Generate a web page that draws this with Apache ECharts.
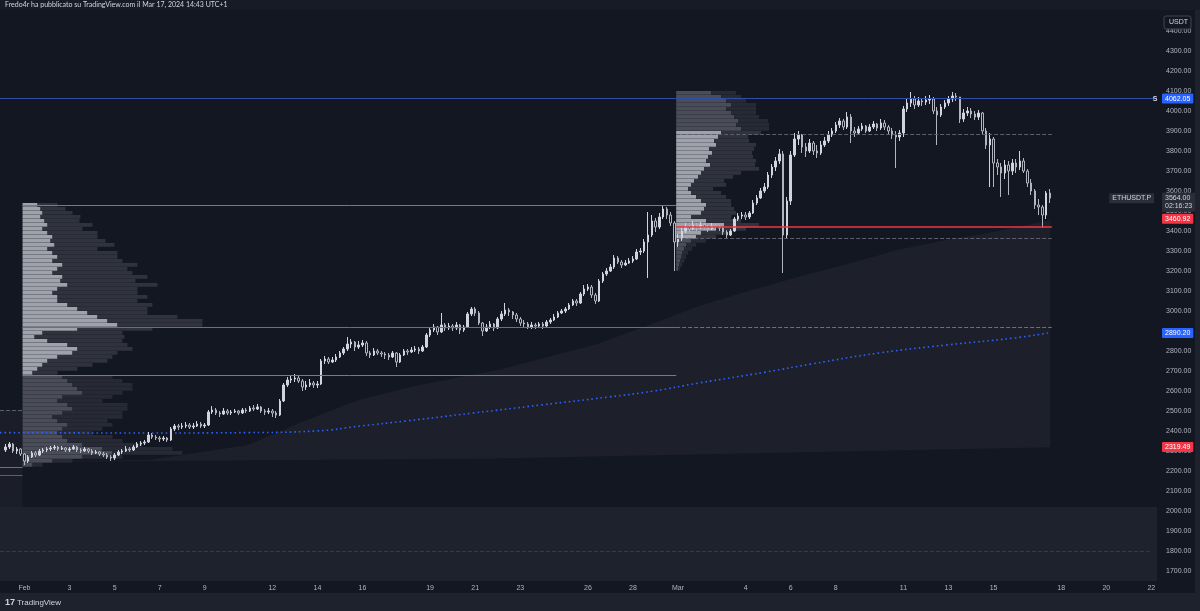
<!DOCTYPE html>
<html>
<head>
<meta charset="utf-8">
<title>ETHUSDT.P 4h</title>
<script src="https://cdn.jsdelivr.net/npm/echarts@6.0.0/dist/echarts.min.js"></script>
<style>
  html, body { margin: 0; padding: 0; background: #131722; }
  #chart { width: 1200px; height: 611px; }
</style>
</head>
<body>
<div id="chart"></div>
<script>
// 4h candles from Jan 31 04:00 to Mar 17 12:00; each open is the previous close
const firstOpen = 2305;
const closes = [
  2320, 2335, 2300, 2310, 2285,                 // Jan 31
  2250, 2270, 2290, 2280, 2300, 2305,           // Feb 1
  2310, 2315, 2320, 2310, 2315, 2305,
  2310, 2320, 2305, 2300, 2310, 2300,
  2290, 2295, 2285, 2280, 2270, 2265,
  2280, 2295, 2300, 2310, 2305, 2320,           // Feb 5
  2335, 2340, 2345, 2380, 2370, 2365,
  2360, 2365, 2355, 2410, 2425, 2420,
  2425, 2430, 2420, 2425, 2435, 2425,
  2430, 2495, 2505, 2490, 2485, 2500,
  2490, 2495, 2500, 2490, 2505, 2500,           // Feb 10
  2515, 2510, 2520, 2500, 2495, 2500,
  2490, 2480, 2550, 2630, 2655, 2660,
  2665, 2650, 2620, 2630, 2640, 2630,
  2635, 2750, 2760, 2745, 2755, 2770,
  2790, 2810, 2835, 2845, 2820, 2830,           // Feb 15
  2840, 2790, 2780, 2800, 2790, 2785,
  2780, 2770, 2790, 2745, 2780, 2800,
  2795, 2805, 2810, 2800, 2820, 2880,
  2905, 2920, 2895, 2930, 2915, 2925,
  2915, 2930, 2905, 2920, 2985, 3010,           // Feb 20
  2990, 2940, 2900, 2920, 2935, 2915,
  2960, 2985, 3005, 2995, 2980, 2960,
  2940, 2935, 2920, 2930, 2925, 2935,
  2925, 2945, 2955, 2970, 2990, 3000,
  3010, 3030, 3050, 3040, 3085, 3110,           // Feb 25
  3120, 3080, 3050, 3150, 3185, 3200,
  3220, 3265, 3245, 3230, 3240, 3250,
  3260, 3295, 3300, 3345, 3380, 3450,
  3420, 3470, 3510, 3480, 3440, 3345,
  3360, 3400, 3420, 3410, 3430, 3420,           // Mar 1
  3430, 3420, 3410, 3425, 3420, 3415,
  3395, 3380, 3400, 3460, 3475, 3480,
  3470, 3490, 3540, 3565, 3600, 3620,
  3680, 3720, 3750, 3785, 3380, 3550,           // Mar 5
  3780, 3860, 3880, 3820, 3800, 3840,
  3800, 3790, 3830, 3850, 3880, 3900,
  3930, 3950, 3920, 3970, 3900, 3890,
  3910, 3925, 3900, 3920, 3935, 3915,
  3940, 3920, 3900, 3880, 3870, 3890,           // Mar 10
  4010, 4040, 4060, 4030, 4050, 4045,
  4055, 4060, 4000, 3980, 4020, 4040,
  4060, 4075, 4070, 3960, 3990, 4000,
  3985, 3970, 3990, 3900, 3830, 3860,
  3740, 3720, 3690, 3730, 3700, 3740,           // Mar 15
  3720, 3750, 3700, 3640, 3600, 3530,
  3520, 3480, 3590, 3564
];
const highs = [
  2335, 2345, 2340, 2320, 2315,
  2290, 2280, 2300, 2300, 2310, 2315,
  2320, 2325, 2330, 2325, 2325, 2320,
  2320, 2330, 2325, 2315, 2320, 2315,
  2310, 2305, 2300, 2295, 2290, 2280,
  2290, 2305, 2310, 2325, 2320, 2330,
  2345, 2350, 2355, 2395, 2390, 2380,
  2375, 2375, 2370, 2420, 2435, 2435,
  2440, 2445, 2440, 2440, 2450, 2445,
  2440, 2505, 2525, 2515, 2500, 2515,
  2510, 2505, 2510, 2505, 2515, 2515,
  2525, 2530, 2535, 2525, 2510, 2515,
  2510, 2500, 2560, 2640, 2670, 2680,
  2685, 2680, 2660, 2650, 2660, 2650,
  2650, 2760, 2775, 2770, 2770, 2785,
  2800, 2820, 2870, 2860, 2850, 2850,
  2855, 2850, 2800, 2815, 2810, 2800,
  2795, 2790, 2800, 2795, 2790, 2810,
  2810, 2820, 2825, 2820, 2830, 2890,
  2920, 2935, 2925, 2990, 2940, 2940,
  2935, 2945, 2935, 2930, 2995, 3020,
  3020, 3000, 2945, 2935, 2950, 2940,
  2970, 3000, 3040, 3015, 3000, 2990,
  2970, 2955, 2945, 2945, 2940, 2945,
  2945, 2955, 2965, 2985, 3000, 3010,
  3020, 3040, 3060, 3060, 3095, 3130,
  3135, 3130, 3090, 3160, 3195, 3215,
  3235, 3280, 3275, 3255, 3255, 3265,
  3275, 3310, 3315, 3360, 3495, 3480,
  3465, 3490, 3530, 3520, 3495, 3450,
  3385, 3420, 3440, 3430, 3450, 3440,
  3445, 3440, 3430, 3440, 3435, 3430,
  3420, 3405, 3410, 3470, 3490, 3495,
  3495, 3500, 3555, 3580, 3615, 3640,
  3695, 3735, 3770, 3810, 3800, 3570,
  3800, 3890, 3900, 3885, 3840, 3860,
  3850, 3830, 3850, 3870, 3900, 3915,
  3945, 3965, 3960, 3995, 3985, 3920,
  3925, 3940, 3930, 3935, 3950, 3940,
  3960, 3955, 3930, 3915, 3900, 3905,
  4025, 4060, 4095, 4075, 4070, 4065,
  4075, 4080, 4070, 4020, 4035, 4055,
  4075, 4095, 4090, 4070, 4010, 4020,
  4015, 4000, 4005, 3995, 3915, 3890,
  3870, 3760, 3740, 3755, 3750, 3760,
  3760, 3800, 3765, 3710, 3660, 3610,
  3560, 3530, 3600, 3610
];
const lows = [
  2295, 2310, 2290, 2285, 2275,
  2230, 2240, 2265, 2270, 2275, 2290,
  2295, 2300, 2305, 2300, 2305, 2295,
  2295, 2305, 2295, 2290, 2295, 2290,
  2280, 2285, 2275, 2270, 2260, 2250,
  2255, 2275, 2285, 2295, 2295, 2300,
  2315, 2325, 2330, 2340, 2360, 2355,
  2345, 2350, 2345, 2350, 2400, 2405,
  2410, 2415, 2410, 2410, 2420, 2415,
  2415, 2425, 2485, 2480, 2470, 2480,
  2480, 2480, 2490, 2480, 2485, 2490,
  2495, 2500, 2505, 2490, 2480, 2485,
  2470, 2465, 2475, 2545, 2620, 2640,
  2645, 2640, 2600, 2605, 2620, 2615,
  2615, 2630, 2735, 2735, 2740, 2745,
  2765, 2780, 2800, 2815, 2800, 2810,
  2820, 2775, 2765, 2775, 2780, 2770,
  2760, 2755, 2765, 2720, 2740, 2775,
  2780, 2790, 2795, 2785, 2795, 2815,
  2870, 2895, 2880, 2890, 2900, 2905,
  2900, 2905, 2885, 2895, 2915, 2975,
  2975, 2930, 2875, 2895, 2910, 2900,
  2910, 2950, 2975, 2975, 2960, 2945,
  2925, 2920, 2910, 2910, 2910, 2915,
  2910, 2920, 2935, 2950, 2965, 2985,
  2990, 3005, 3025, 3025, 3035, 3075,
  3100, 3065, 3035, 3045, 3140, 3175,
  3195, 3210, 3235, 3215, 3225, 3235,
  3240, 3255, 3280, 3290, 3165, 3370,
  3395, 3410, 3460, 3460, 3425, 3200,
  3320, 3350, 3390, 3395, 3405, 3400,
  3410, 3405, 3395, 3405, 3405, 3400,
  3380, 3360, 3375, 3395, 3450, 3460,
  3455, 3460, 3485, 3530, 3560, 3590,
  3610, 3665, 3700, 3735, 3190, 3360,
  3530, 3770, 3830, 3790, 3770, 3790,
  3780, 3765, 3780, 3820, 3840, 3870,
  3890, 3915, 3905, 3910, 3840, 3870,
  3880, 3900, 3890, 3895, 3910, 3900,
  3905, 3905, 3880, 3860, 3715, 3850,
  3870, 3995, 4020, 4010, 4020, 4025,
  4030, 4035, 3985, 3830, 3970, 4010,
  4025, 4045, 4050, 3940, 3945, 3975,
  3965, 3955, 3955, 3880, 3810, 3620,
  3620, 3680, 3570, 3660, 3580, 3680,
  3690, 3705, 3690, 3620, 3580, 3510,
  3480, 3415, 3460, 3540
];

// time axis ticks
const tickDays = ['02-01', '02-03', '02-05', '02-07', '02-09', '02-12', '02-14', '02-16', '02-19', '02-21', '02-23',
  '02-26', '02-28', '03-01', '03-04', '03-06', '03-08', '03-11', '03-13', '03-15', '03-18', '03-20', '03-22'];
const tickTexts = ['Feb', '3', '5', '7', '9', '12', '14', '16', '19', '21', '23',
  '26', '28', 'Mar', '4', '6', '8', '11', '13', '15', '18', '20', '22'];

// fixed range volume profiles (row price, value-area part, remaining part)
const p1Top = 3530, p1Step = 20, p1VaLow = 2690, p1VaHigh = 3530;
const p1VolA = [15, 18, 20, 18, 22, 25, 20, 25, 30, 28, 32, 25, 30, 35, 30, 40, 35, 30, 40, 38,
  45, 35, 30, 35, 35, 45, 55, 65, 75, 85, 95, 55, 20, 12, 25, 45, 55, 50, 35, 25, 20, 15, 10,
  40, 45, 50, 55, 60, 40, 35, 45, 50, 40, 30, 35, 45, 40, 35, 40, 45, 60, 80, 90, 60, 30, 10];
const p1VolB = [20, 25, 30, 40, 35, 45, 40, 50, 45, 55, 60, 50, 65, 60, 70, 75, 70, 80, 85, 75,
  90, 80, 85, 90, 80, 85, 70, 60, 80, 95, 85, 75, 80, 90, 75, 60, 55, 45, 55, 60, 50, 40, 25,
  50, 55, 60, 55, 40, 50, 45, 60, 55, 60, 70, 50, 45, 40, 35, 50, 55, 60, 70, 70, 40, 20, 10];
const p2Top = 4090, p2Step = 20, p2VaLow = 3370, p2VaHigh = 3890;
const p2VolA = [35, 45, 50, 55, 50, 55, 58, 62, 60, 65,
  45, 42, 38, 40, 33, 36, 32, 30, 34, 28, 25, 22, 18, 15, 12, 15, 20, 25, 30, 28, 25, 15, 30, 48, 40, 25, 20,
  15, 10, 8, 6, 5, 4, 3, 2];
const p2VolB = [25, 20, 20, 25, 30, 25, 25, 30, 33, 28,
  40, 30, 35, 40, 45, 40, 45, 50, 45, 55, 40, 35, 30, 35, 25, 30, 30, 30, 25, 30, 35, 40, 35, 35, 30, 25, 20,
  15, 10, 8, 6, 5, 4, 3, 2];

// anchored band (days counted from Jan 31 00:00)
const bandDays = [1, 6.6, 11, 13.5, 15.9, 18.6, 22.1, 26.5, 28.8, 31, 33.2, 35.4, 37.6, 39.8, 42, 44.3, 46.6];
const bandUpper = [2250, 2255, 2330, 2450, 2555, 2630, 2705, 2835, 2930, 3025, 3100, 3170, 3235, 3305, 3355, 3400, 3455];
const bandLowDays = [1, 22, 46.6];
const bandLower = [2245, 2262, 2319];

// dotted moving average
const maDays = [0, 6, 11, 14, 16, 18, 21, 24, 27, 29, 31, 34, 36, 39, 42, 45, 46.5];
const maValues = [2392, 2390, 2392, 2400, 2425, 2450, 2490, 2530, 2570, 2600, 2640, 2695, 2735, 2790, 2830, 2865, 2890];

const SLOTS = 308;
const CANDLE_START = 1;
const VOL_PER_SLOT = 3.76;

const dayNames = ['01-31'];
for (let d = 1; d <= 29; d++) dayNames.push('02-' + String(d).padStart(2, '0'));
for (let d = 1; d <= 23; d++) dayNames.push('03-' + String(d).padStart(2, '0'));
const slots = [];
dayNames.forEach(d => {
    for (let h = 0; h < 24; h += 4) slots.push(d + ' ' + String(h).padStart(2, '0'));
});
slots.length = SLOTS;

const tickMap = {};
tickDays.forEach((d, i) => { tickMap[d + ' 00'] = tickTexts[i]; });

const candleData = slots.map(() => '-');
let prevClose = firstOpen;
closes.forEach((c, i) => {
    candleData[CANDLE_START + i] = [prevClose, c, lows[i], highs[i]];
    prevClose = c;
});

function profileRows(top, step, volA, volB) {
    return volA.map((a, i) => [top - i * step, a, volB[i]]);
}

function profileRenderer(anchor, step, vaLow, vaHigh) {
    return function (params, api) {
        const p = api.value(0);
        const a = api.value(1) / VOL_PER_SLOT;
        const b = api.value(2) / VOL_PER_SLOT;
        const inVa = p >= vaLow && p <= vaHigh;
        const t = api.coord([anchor, p + step / 2]);
        const bt = api.coord([anchor, p - step / 2]);
        const xa = api.coord([anchor + a, p])[0];
        const xb = api.coord([anchor + a + b, p])[0];
        const h = bt[1] - t[1] - 0.3;
        return {
            type: 'group',
            children: [
                { type: 'rect', shape: { x: t[0], y: t[1], width: xa - t[0], height: h },
                  style: { fill: inVa ? '#9fa2ab' : '#4a4d58' } },
                { type: 'rect', shape: { x: xa, y: t[1], width: xb - xa, height: h },
                  style: { fill: inVa ? '#30333e' : '#272a35' } }
            ]
        };
    };
}

function bandRenderer(params, api) {
    const pts = [];
    bandDays.forEach((d, i) => pts.push(api.coord([d * 6, bandUpper[i]])));
    for (let i = bandLowDays.length - 1; i >= 0; i--) pts.push(api.coord([bandLowDays[i] * 6, bandLower[i]]));
    return { type: 'polygon', shape: { points: pts }, style: { fill: '#1d202b' } };
}

function priceTag(value, text, bg) {
    return {
        yAxis: value,
        lineStyle: { color: 'rgba(0,0,0,0)', width: 0 },
        label: { show: true, position: 'end', distance: 5, formatter: text, backgroundColor: bg,
                 color: '#ffffff', fontSize: 7, padding: [2, 3, 1, 3], borderRadius: 1 }
    };
}

function segment(x1, x2, price, color, type, width) {
    return [
        { coord: [x1, price], lineStyle: { color: color, type: type, width: width } },
        { coord: [x2, price] }
    ];
}

const chart = echarts.init(document.getElementById('chart'));

const option = {
    backgroundColor: '#131722',
    animation: false,
    grid: { left: 0, right: 43, top: 11, bottom: 30 },
    xAxis: [
        {
            type: 'category',
            data: slots,
            boundaryGap: true,
            axisLine: { show: false },
            axisTick: { show: false },
            splitLine: { show: false },
            axisLabel: {
                interval: (i, v) => tickMap[v] !== undefined,
                formatter: v => tickMap[v] || '',
                color: '#b2b5be',
                fontSize: 7,
                margin: 4
            }
        },
        { type: 'value', min: 0, max: SLOTS, show: false }
    ],
    yAxis: {
        type: 'value',
        position: 'right',
        min: 1650,
        max: 4500,
        interval: 50,
        axisLine: { show: false },
        axisTick: { show: false },
        splitLine: { show: false },
        axisLabel: {
            formatter: v => (v % 100 === 0 && v < 4450 ? v.toFixed(2) : ''),
            color: '#b2b5be',
            fontSize: 7,
            margin: 9
        }
    },
    series: [
        {
            name: 'band',
            type: 'custom',
            xAxisIndex: 1,
            z: 1,
            data: [0],
            renderItem: bandRenderer,
            markArea: {
                silent: true,
                data: [
                    [{ coord: [0, 1650], itemStyle: { color: '#1e222d' } }, { coord: [SLOTS, 2020] }],
                    [{ coord: [0, 2020], itemStyle: { color: '#1b1e29' } }, { coord: [6, 2505] }]
                ]
            }
        },
        {
            name: 'profile1',
            type: 'custom',
            xAxisIndex: 1,
            z: 2,
            data: profileRows(p1Top, p1Step, p1VolA, p1VolB),
            renderItem: profileRenderer(6, p1Step, p1VaLow, p1VaHigh),
            markLine: {
                silent: true,
                symbol: 'none',
                label: { show: false },
                data: [
                    segment(6, 180, 3530, '#787b86', 'solid', 1),
                    segment(6, 180, 2680, '#787b86', 'solid', 1),
                    segment(6, 180, 2920, '#f23645', 'solid', 1),
                    segment(180, 280, 2920, '#f23645', 'dashed', 1),
                    segment(180, 280, 3885, '#5d606b', 'dashed', 1),
                    segment(180, 280, 3365, '#5d606b', 'dashed', 1),
                    segment(180, 280, 3420, '#f23645', 'solid', 1.5),
                    segment(0, 6, 2505, '#5d606b', 'dashed', 1),
                    segment(0, 6, 2220, '#f23645', 'solid', 1),
                    segment(0, 6, 2180, '#5d606b', 'solid', 1),
                    segment(0, 306, 1800, '#363a45', 'dashed', 1)
                ]
            }
        },
        {
            name: 'profile2',
            type: 'custom',
            xAxisIndex: 1,
            z: 2,
            data: profileRows(p2Top, p2Step, p2VolA, p2VolB),
            renderItem: profileRenderer(180, p2Step, p2VaLow, p2VaHigh)
        },
        {
            name: 'MA',
            type: 'line',
            xAxisIndex: 1,
            z: 3,
            symbol: 'none',
            smooth: true,
            data: maDays.map((d, i) => [d * 6, maValues[i]]),
            lineStyle: { color: '#2962ff', width: 1.6, type: [1.6, 3] }
        },
        {
            name: 'ETHUSDT.P',
            type: 'candlestick',
            z: 4,
            barWidth: 2,
            data: candleData,
            itemStyle: {
                color: '#d1d4dc',
                color0: '#131722',
                borderColor: '#d1d4dc',
                borderColor0: '#b2b5be',
                borderWidth: 1
            },
            markLine: {
                silent: true,
                symbol: 'none',
                data: [
                    {
                        yAxis: 4062.05,
                        lineStyle: { color: '#2f4ea8', type: 'solid', width: 1 },
                        label: { show: true, position: 'end', distance: 5, formatter: '4062.05', backgroundColor: '#2962ff',
                                 color: '#ffffff', fontSize: 7, padding: [2, 3, 1, 3], borderRadius: 1 }
                    },
                    {
                        yAxis: 3564,
                        lineStyle: { color: 'rgba(0,0,0,0)', width: 0 },
                        label: { show: true, position: 'end', distance: 5, formatter: '3564.00\n02:16:23',
                                 backgroundColor: '#2a2e39', color: '#d1d4dc', fontSize: 7, lineHeight: 8,
                                 padding: [2, 3, 1, 3], offset: [0, 4] }
                    },
                    priceTag(3460.92, '3460.92', '#f23645'),
                    priceTag(2890.20, '2890.20', '#2962ff'),
                    priceTag(2319.49, '2319.49', '#f23645')
                ]
            },
            markPoint: {
                silent: true,
                symbolSize: 0,
                data: [
                    { coord: [307, 4062.05], label: { show: true, formatter: 'S', color: '#d1d4dc', fontSize: 7, fontWeight: 'bold' } },
                    { coord: [307, 3564], label: { show: true, position: 'left', distance: 1, formatter: 'ETHUSDT.P',
                        backgroundColor: '#2a2e39', color: '#d1d4dc', fontSize: 7, padding: [2, 3, 1, 3] } }
                ]
            }
        }
    ],
    graphic: [
        { type: 'rect', z: 100, shape: { x: 0, y: 0, width: 1200, height: 10 }, style: { fill: '#181b26' } },
        { type: 'text', z: 101, left: 5, top: 1, style: { text: 'Fredo4r ha pubblicato su TradingView.com il Mar 17, 2024 14:43 UTC+1',
            fill: '#d1d4dc', fontSize: 7, fontFamily: 'Lato' } },
        { type: 'rect', z: 100, shape: { x: 0, y: 593, width: 1200, height: 18 }, style: { fill: '#1e222d' } },
        { type: 'rect', z: 100, shape: { x: 1195, y: 10, width: 5, height: 583 }, style: { fill: '#1e222d' } },
        { type: 'text', z: 101, left: 5, top: 598, style: { text: '17', fill: '#d1d4dc', fontSize: 9, fontWeight: 'bold' } },
        { type: 'text', z: 101, left: 17, top: 599, style: { text: 'TradingView', fill: '#d1d4dc', fontSize: 8 } },
        { type: 'rect', z: 101, shape: { x: 1164, y: 16, width: 27, height: 13, r: 2 },
          style: { fill: '#131722', stroke: '#434651', lineWidth: 1 } },
        { type: 'text', z: 102, left: 1169, top: 19, style: { text: 'USDT', fill: '#d1d4dc', fontSize: 7 } }
    ]
};

chart.setOption(option);
</script>
</body>
</html>
